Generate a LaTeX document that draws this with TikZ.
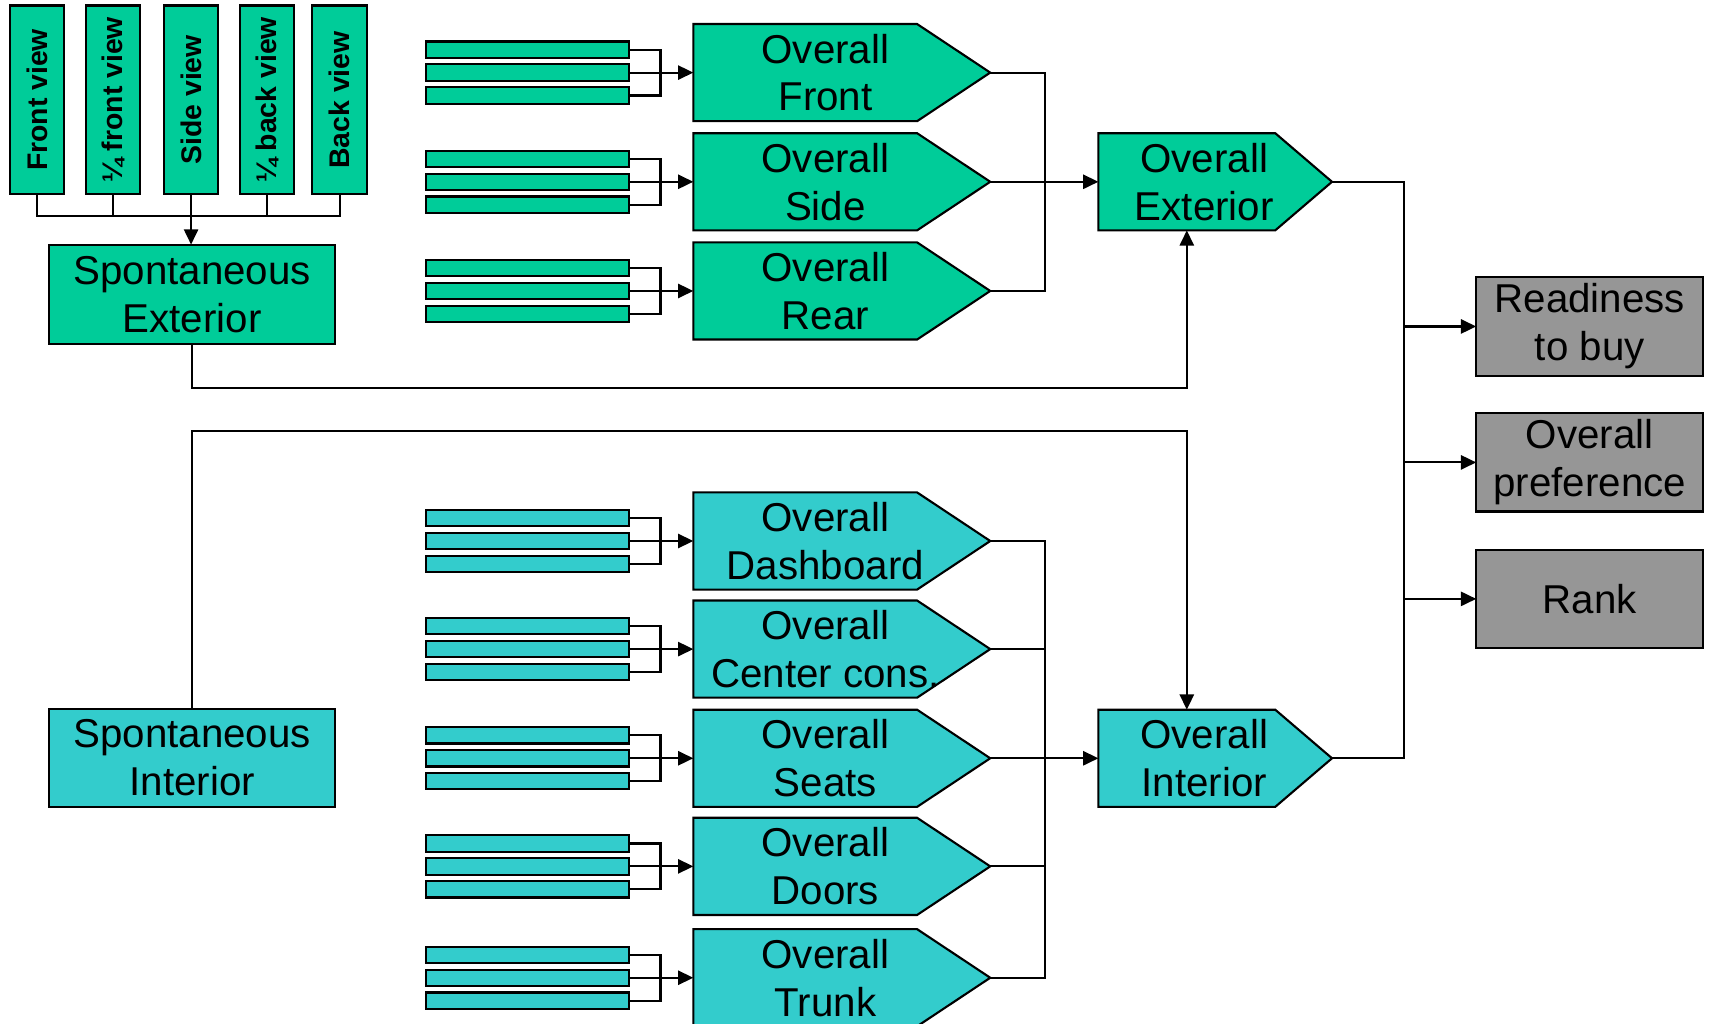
\documentclass[tikz,border=0pt]{standalone}
\usepackage{fontspec}
\setmainfont{Liberation Sans}
\usetikzlibrary{arrows.meta,calc}
\definecolor{extgreen}{RGB}{0,204,153}
\definecolor{intteal}{RGB}{51,204,204}
\definecolor{outgray}{RGB}{150,150,150}
\tikzset{
 box/.style={draw=black, line width=1.1pt, inner sep=0pt, outer sep=0pt, align=center, font=\fontsize{21}{25}\selectfont},
 viewbox/.style={draw=black, fill=extgreen, line width=1.1pt, rotate=90, minimum width=3.46cm, minimum height=1.0cm, inner sep=0pt, outer sep=0pt, font=\fontsize{14.8}{17}\selectfont\bfseries},
 pentbody/.style={inner sep=0pt, outer sep=0pt, minimum height=1.78cm},
 pentlabel/.style={align=center, inner sep=0pt, font=\fontsize{21}{25}\selectfont},
 bar/.style={draw=black, line width=1.1pt, minimum width=3.72cm, minimum height=0.3cm, inner sep=0pt, outer sep=0pt},
 conn/.style={line width=1.1pt},
 arr/.style={conn, -{Triangle[length=0.28cm,width=0.26cm]}},
}
% #1 name, #2 x, #3 y (top left), #4 width, #5 point length, #6 fill, #7 text, #8 text shift
\newcommand\pentshape[8]{%
 \node[pentbody, minimum width=#4, anchor=north west] (#1) at (#2,#3) {};
 \filldraw[fill=#6, draw=black, line width=1.1pt] (#1.north west) -- ([xshift=-#5]#1.north east) -- (#1.east) -- ([xshift=-#5]#1.south east) -- (#1.south west) -- cycle;
 \node[pentlabel] (#1-label) at ([xshift=#8]#1.center) {#7};
}
% #1 prefix, #2 target, #3 fill
\newcommand\bargroup[3]{%
 \node[bar, fill=#3] (#1a) at ($(#2.west)+(-152,-21)$) {};
 \node[bar, fill=#3] (#1b) at ($(#2.west)+(-152,0)$) {};
 \node[bar, fill=#3] (#1c) at ($(#2.west)+(-152,21)$) {};
 \draw[conn] (#1a.east) -- ++(29,0) |- (#1c.east);
 \draw[arr] (#1b.east) -- (#2.west);
}
\begin{document}
\begin{tikzpicture}[x=0.02cm, y=-0.02cm]
\useasboundingbox (0,0) rectangle (1568,937);
\fill[white] (0,0) rectangle (1568,937);
\clip (0,0) rectangle (1568,937);

% view boxes
\node[viewbox] (v1) at (34,91.5) {Front view};
\node[viewbox] (v2) at (103.5,91.5) {¼ front view};
\node[viewbox] (v3) at (175,91.5) {Side view};
\node[viewbox] (v4) at (244.5,91.5) {¼ back view};
\node[viewbox] (v5) at (311,91.5) {Back view};

\node[box, fill=extgreen, minimum width=5.24cm, minimum height=1.82cm] (spext) at (176,269.5) {Spontaneous\\Exterior};
\node[box, fill=intteal, minimum width=5.24cm, minimum height=1.8cm] (spint) at (176,694) {Spontaneous\\Interior};

\coordinate (vbus) at (175,198);
\draw[conn] (v1.west) |- (vbus) -| (v5.west);
\draw[conn] (v2.west) -- (v2.west |- vbus);
\draw[conn] (v4.west) -- (v4.west |- vbus);
\draw[arr] (v3.west) -- (v3.west |- spext.north);

% exterior pentagons
\pentshape{front}{635}{22}{5.44cm}{1.34cm}{extgreen}{Overall\\Front}{-0.3cm}
\pentshape{side}{635}{122}{5.44cm}{1.34cm}{extgreen}{Overall\\Side}{-0.3cm}
\pentshape{rear}{635}{222}{5.44cm}{1.34cm}{extgreen}{Overall\\Rear}{-0.3cm}
\pentshape{ext}{1006}{122}{4.28cm}{1.04cm}{extgreen}{Overall\\Exterior}{-0.2cm}

% interior pentagons
\pentshape{dash}{635}{451}{5.44cm}{1.34cm}{intteal}{Overall\\Dashboard}{-0.3cm}
\pentshape{cent}{635}{550}{5.44cm}{1.34cm}{intteal}{Overall\\Center cons.}{-0.3cm}
\pentshape{seat}{635}{650}{5.44cm}{1.34cm}{intteal}{Overall\\Seats}{-0.3cm}
\pentshape{door}{635}{749}{5.44cm}{1.34cm}{intteal}{Overall\\Doors}{-0.3cm}
\pentshape{trunk}{635}{851}{5.44cm}{1.34cm}{intteal}{Overall\\Trunk}{-0.3cm}
\pentshape{int}{1006}{650}{4.28cm}{1.04cm}{intteal}{Overall\\Interior}{-0.2cm}

% bar groups
\bargroup{bf}{front}{extgreen}
\bargroup{bs}{side}{extgreen}
\bargroup{br}{rear}{extgreen}
\bargroup{bd}{dash}{intteal}
\bargroup{bc}{cent}{intteal}
\bargroup{bt}{seat}{intteal}
\bargroup{bo}{door}{intteal}
\bargroup{bk}{trunk}{intteal}

% outputs
\node[box, fill=outgray, minimum width=4.16cm, minimum height=1.8cm] (ready) at (1456,299) {Readiness\\to buy};
\node[box, fill=outgray, minimum width=4.16cm, minimum height=1.8cm] (pref) at (1456,423.5) {Overall\\preference};
\node[box, fill=outgray, minimum width=4.16cm, minimum height=1.8cm] (rank) at (1456,548.5) {Rank};

% buses
\draw[conn] (front.east) -- ++(50,0) |- (rear.east);
\draw[arr] (side.east) -- (ext.west);
\draw[conn] (dash.east) -- ++(50,0) |- (trunk.east);
\draw[conn] (cent.east) -- ++(50,0);
\draw[conn] (door.east) -- ++(50,0);
\draw[arr] (seat.east) -- (int.west);

\draw[arr] (spext.south) -- ++(0,40) -| ([xshift=-0.52cm]ext.south);
\draw[arr] (spint.north) -- ++(0,-254) -| ([xshift=-0.52cm]int.north);

\draw[conn] (ext.east) -- ++(66,0) coordinate (bus) |- (int.east);
\draw[arr] (bus |- ready.west) -- (ready.west);
\draw[arr] (bus |- pref.west) -- (pref.west);
\draw[arr] (bus |- rank.west) -- (rank.west);
\end{tikzpicture}
\end{document}
